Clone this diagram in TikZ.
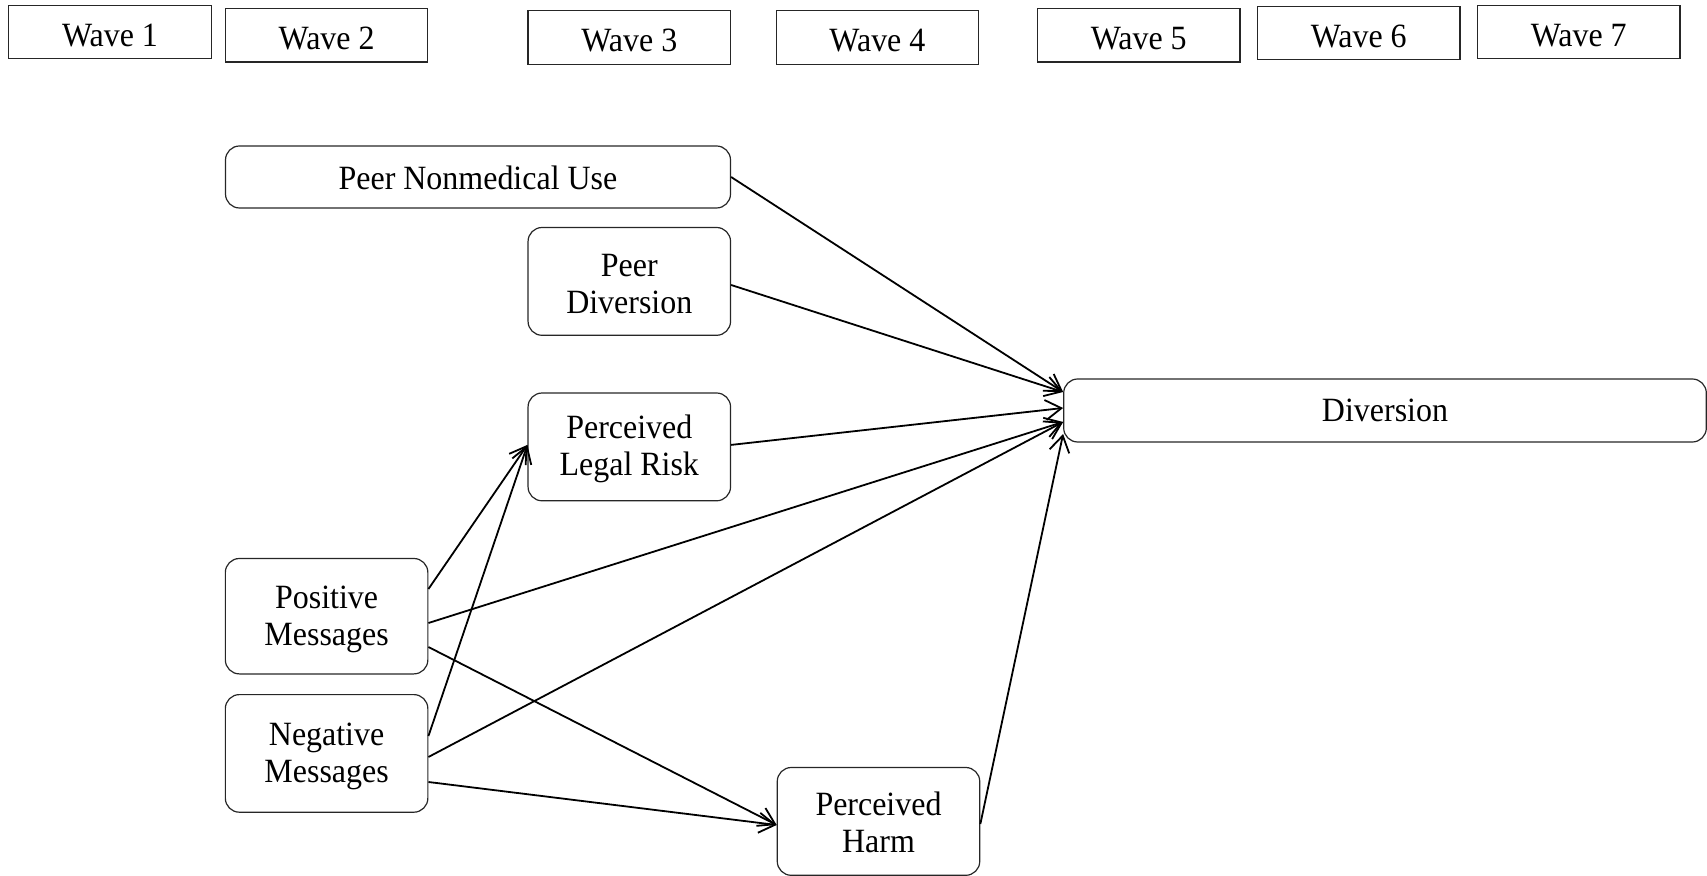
\documentclass[tikz,border=0pt]{standalone}
\usepackage{fontspec}
\setmainfont{Liberation Serif}[FakeStretch=0.94]
\usetikzlibrary{arrows.meta}
\newcommand\txtdn[1]{\rule{0pt}{\dimexpr 0.68em+#1+#1\relax}}
\begin{document}
\begin{tikzpicture}[x=0.5pt,y=-0.5pt,
  font=\fontsize{17pt}{18.5pt}\selectfont,
  txtdown/.style={execute at begin node={\txtdn{#1}}},
  wavebox/.style={draw=black!85,line width=0.6pt,inner sep=0pt,minimum width=101.25pt,minimum height=26.7pt,txtdown=1.6pt},
  rbox/.style={draw=black!85,line width=0.6pt,rounded corners=7pt,inner sep=0pt,align=center},
  arr/.style={line width=0.9pt,-{Straight Barb[length=8pt,width=10pt,line width=0.9pt]}}]
\useasboundingbox (0,0) rectangle (1707,876);
% waves
\node[wavebox] (w1) at (110,32.1) {Wave 1};
\node[wavebox] (w2) at (326.6,35.4) {Wave 2};
\node[wavebox] (w3) at (629.3,37.5) {Wave 3};
\node[wavebox] (w4) at (877.4,37.5) {Wave 4};
\node[wavebox] (w5) at (1138.7,35.4) {Wave 5};
\node[wavebox] (w6) at (1358.7,33.2) {Wave 6};
\node[wavebox] (w7) at (1578.7,32.1) {Wave 7};
% constructs
\node[rbox,minimum width=252.5pt,minimum height=31pt,txtdown=0.5pt] (pnu) at (478,177) {Peer Nonmedical Use};
\node[rbox,minimum width=101.25pt,minimum height=53.9pt] (pd) at (629.3,281.4) {\txtdn{1.1pt}Peer\\Diversion};
\node[rbox,minimum width=101.25pt,minimum height=53.9pt] (lr) at (629.3,446.9) {\txtdn{1.1pt}Perceived\\Legal Risk};
\node[rbox,minimum width=101.25pt,minimum height=57.7pt] (pos) at (326.6,616.2) {\txtdn{1.6pt}Positive\\Messages};
\node[rbox,minimum width=101.25pt,minimum height=58.8pt] (neg) at (326.6,753.4) {\txtdn{1.6pt}Negative\\Messages};
\node[rbox,minimum width=101.25pt,minimum height=53.9pt] (ph) at (878.5,821.4) {\txtdn{0.5pt}Perceived\\Harm};
\node[rbox,minimum width=321.3pt,minimum height=31.5pt] (div) at (1385,410.5) {Diversion};
% paths to diversion
\draw[arr] (pnu.east) -- ([yshift=9.25pt]div.west);
\draw[arr] ([yshift=-1.8pt]pd.east) -- ([yshift=9.25pt]div.west);
\draw[arr] ([yshift=1pt]lr.east) -- ([yshift=1.25pt]div.west);
\draw[arr] ([yshift=-3.4pt]pos.east) -- ([yshift=-5.75pt]div.west);
\draw[arr] ([yshift=-1.8pt]neg.east) -- ([yshift=-5.75pt]div.west);
\draw[arr] ([yshift=-1.3pt]ph.east) -- ([yshift=-11.75pt]div.west);
% messages to mediators
\draw[arr] ([yshift=13.6pt]pos.east) -- ([yshift=1pt]lr.west);
\draw[arr] ([yshift=8.7pt]neg.east) -- ([yshift=1pt]lr.west);
\draw[arr] ([yshift=-15.4pt]pos.east) -- ([yshift=-1.8pt]ph.west);
\draw[arr] ([yshift=-14.3pt]neg.east) -- ([yshift=-1.8pt]ph.west);
\end{tikzpicture}
\end{document}
